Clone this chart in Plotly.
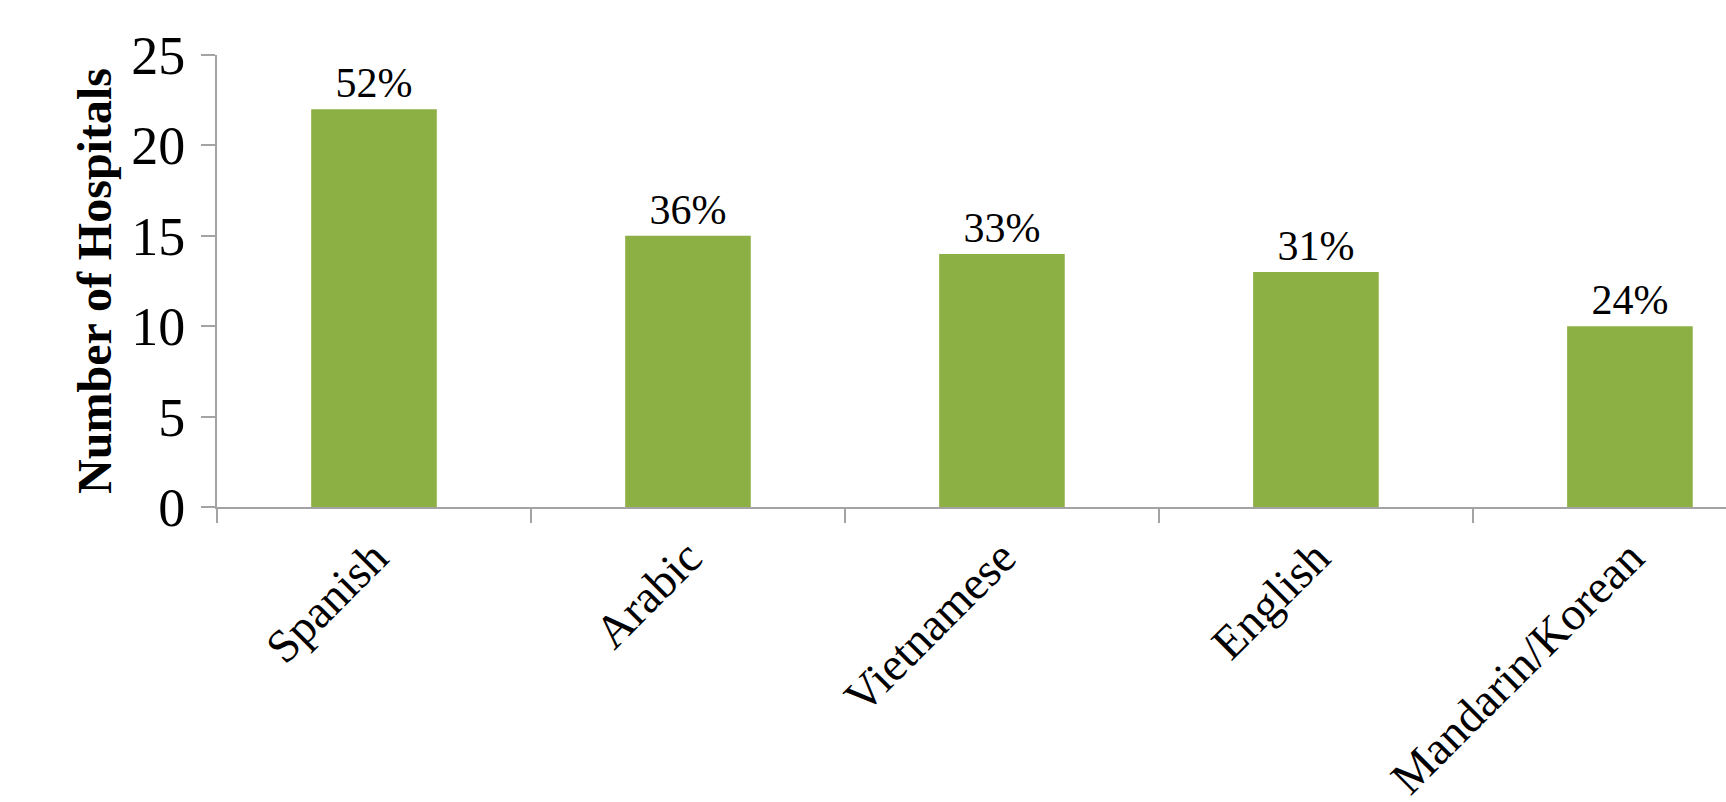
import plotly.graph_objects as go

categories = ["Spanish", "Arabic", "Vietnamese", "English", "Mandarin/Korean"]
hospitals = [22, 15, 14, 13, 10]
percent_labels = ["52%", "36%", "33%", "31%", "24%"]
y_ticks = [0, 5, 10, 15, 20, 25]

FONT = "Liberation Serif, Times New Roman, serif"
AXIS_GREY = "#a3a3a3"

fig = go.Figure(
    go.Bar(
        x=categories,
        y=hospitals,
        text=percent_labels,
        textposition="outside",
        textfont=dict(family=FONT, size=42, color="black"),
        cliponaxis=False,
        width=0.4,
        marker=dict(color="#8cb043", line=dict(width=0)),
    )
)

fig.update_layout(
    width=1726,
    height=802,
    margin=dict(l=217, r=0, t=55, b=295),
    plot_bgcolor="white",
    paper_bgcolor="white",
    showlegend=False,
    font=dict(family=FONT, color="black"),
)

fig.update_xaxes(
    type="category",
    range=[-0.5, 4.306],
    automargin=False,
    tickson="boundaries",
    ticks="outside",
    ticklen=14,
    tickwidth=1.5,
    tickcolor=AXIS_GREY,
    showline=True,
    linecolor=AXIS_GREY,
    linewidth=2,
    showgrid=False,
    tickangle=-45,
    tickfont=dict(family=FONT, size=47, color="black"),
    ticklabelstandoff=2,
)

fig.update_yaxes(
    range=[0, 25],
    tickvals=y_ticks,
    automargin=False,
    ticks="outside",
    ticklen=14,
    tickwidth=1.5,
    tickcolor=AXIS_GREY,
    showline=True,
    linecolor=AXIS_GREY,
    linewidth=2,
    showgrid=False,
    zeroline=False,
    tickfont=dict(family=FONT, size=54, color="black"),
    ticklabelstandoff=5,
    title=dict(
        text="<b>Number of Hospitals</b>",
        font=dict(family=FONT, size=48, color="black"),
        standoff=4,
    ),
)

fig.write_html(
    "out.html",
    config={"displayModeBar": False},
    post_script="document.body.style.margin='0';document.body.style.overflow='hidden';",
)
